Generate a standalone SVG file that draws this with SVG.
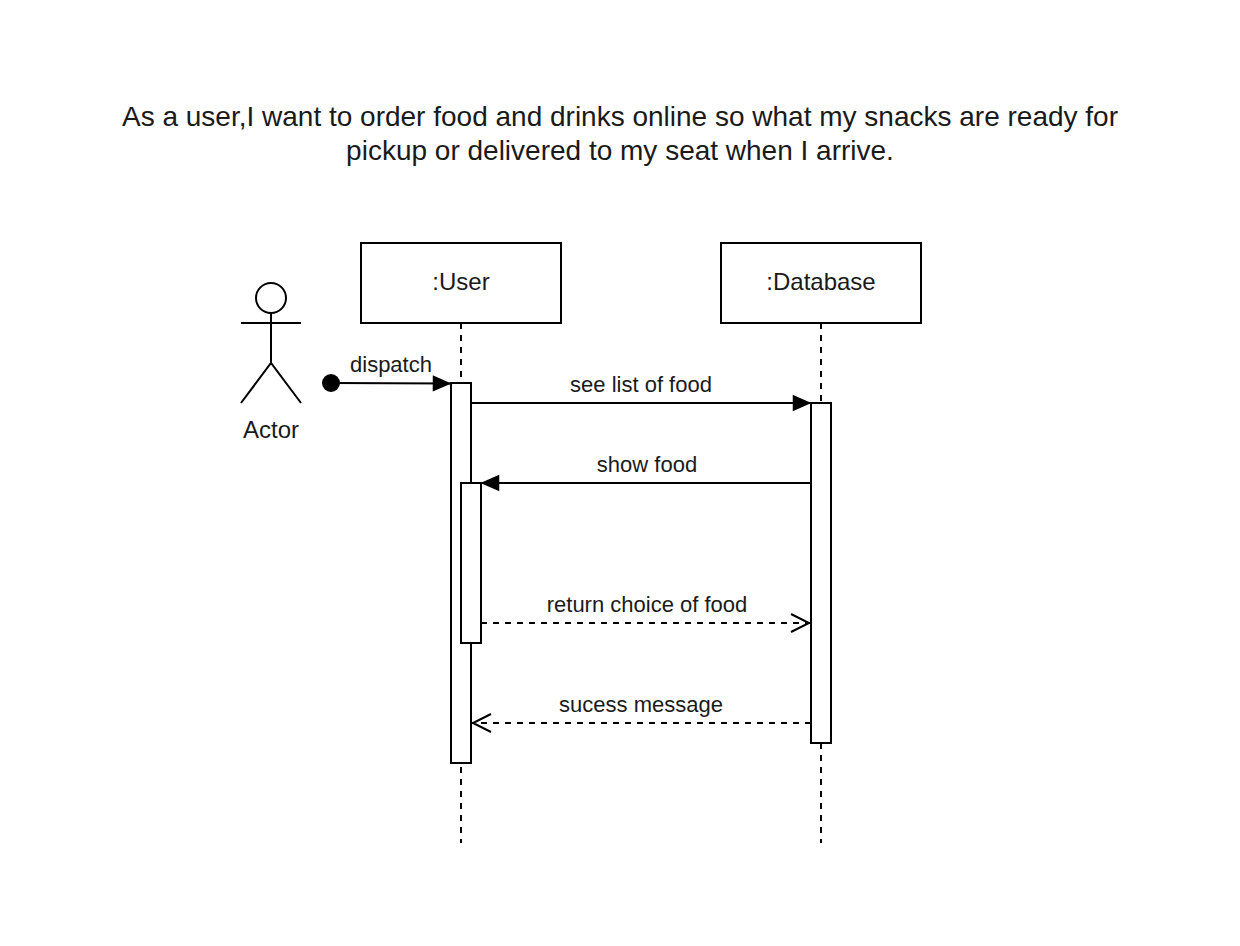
<svg xmlns="http://www.w3.org/2000/svg" width="1240" height="946" viewBox="0 0 1240 946">
<style>
text{font-family:"Liberation Sans",Arial,sans-serif;fill:#1a1a1a;text-anchor:middle}
.t{font-size:28px}.n{font-size:24px}.l{font-size:22px}
.b{fill:#fff;stroke:#000;stroke-width:2}
.c{fill:none;stroke:#000;stroke-width:2}
.d{fill:none;stroke:#000;stroke-width:2;stroke-dasharray:6 6}
</style>
<defs>
<marker id="fa" markerUnits="userSpaceOnUse" markerWidth="20" markerHeight="18" refX="19.5" refY="9" orient="auto"><path d="M2 2L18 9L2 16Z" fill="#000" stroke="#000" stroke-width="1.5"/></marker>
<marker id="oa" markerUnits="userSpaceOnUse" markerWidth="24" markerHeight="22" refX="22" refY="11" orient="auto"><path d="M2 2L20 11L2 20" fill="none" stroke="#000" stroke-width="2"/></marker>
</defs>
<rect width="1240" height="946" fill="#fff"/>
<g id="title"><text class="t" x="620" y="126">As a user,I want to order food and drinks online so what my snacks are ready for</text><text class="t" x="620" y="160">pickup or delivered to my seat when I arrive.</text></g>
<g id="lifelines"><path class="d" d="M461 323V843M821 323V843"/></g>
<g id="actor"><circle class="b" cx="271" cy="298" r="15"/><path class="c" d="M271 313V363M241 323H301M241 403L271 363L301 403"/><text class="n" x="271" y="438">Actor</text></g>
<g id="user"><rect class="b" x="361" y="243" width="200" height="80"/><text class="n" x="461" y="290">:User</text></g>
<g id="database"><rect class="b" x="721" y="243" width="200" height="80"/><text class="n" x="821" y="290">:Database</text></g>
<g id="user-activation"><rect class="b" x="451" y="383" width="20" height="380"/></g>
<g id="user-activation-nested"><rect class="b" x="461" y="483" width="20" height="160"/></g>
<g id="database-activation"><rect class="b" x="811" y="403" width="20" height="340"/></g>
<g id="connectors">
<circle cx="331" cy="383" r="9" fill="#000"/>
<path class="c" d="M331 383L451 383.5" marker-end="url(#fa)"/>
<path class="c" d="M471 403H811" marker-end="url(#fa)"/>
<path class="c" d="M811 483H481" marker-end="url(#fa)"/>
<path class="d" d="M481 623H811" marker-end="url(#oa)"/>
<path class="d" d="M811 723H471" marker-end="url(#oa)"/>
</g>
<g id="labels">
<text class="l" x="391" y="372">dispatch</text>
<text class="l" x="641" y="392">see list of food</text>
<text class="l" x="647" y="472">show food</text>
<text class="l" x="647" y="612">return choice of food</text>
<text class="l" x="641" y="712">sucess message</text>
</g>
</svg>
